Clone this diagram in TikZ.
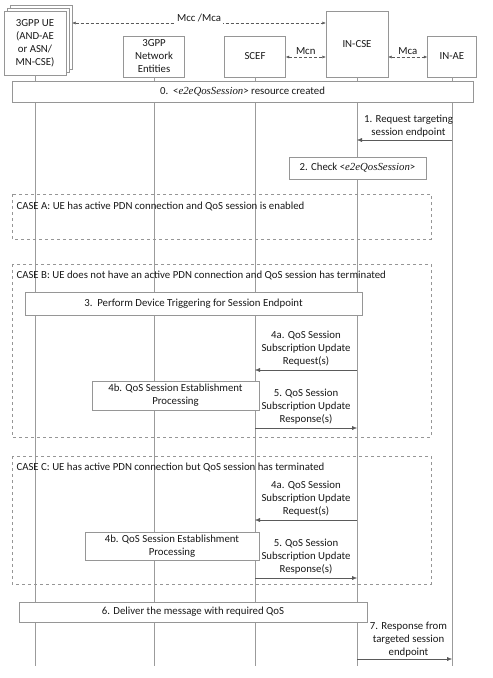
\documentclass[tikz,border=0pt]{standalone}
\usepackage{fontspec}
\setmainfont{Carlito}
\newfontfamily\resfont{Liberation Serif}
\usetikzlibrary{arrows.meta}
\definecolor{boxgray}{RGB}{150,150,150}
\definecolor{linegray}{RGB}{155,155,155}
\definecolor{msggray}{RGB}{90,90,90}
\newcommand{\res}{\textless{\resfont\itshape e2eQosSession}\textgreater}

\begin{document}
\begin{tikzpicture}[x=1pt,y=-1pt,font=\fontsize{10.8}{13}\selectfont,text=black!90]
\useasboundingbox[fill=white] (0,0) rectangle (493,678);
\tikzset{Box/.style={draw=boxgray,fill=white,inner sep=0pt,align=center}}
\tikzset{life/.style={draw=linegray}}
\tikzset{msg/.style={draw=msggray,-{Latex[length=5pt,width=4pt]}}}
\tikzset{iface/.style={draw=msggray,densely dashed,{Latex[length=3.5pt,width=3pt]}-{Latex[length=3.5pt,width=3pt]}}}
\tikzset{frame/.style={draw=boxgray,dashed}}
\tikzset{lbl/.style={align=center,inner sep=1pt}}

\node[Box,minimum width=62pt,minimum height=64pt] (ue2) at (41,37) {};
\node[Box,minimum width=62pt,minimum height=64pt] (ue1) at (38,40) {};
\node[Box,minimum width=62pt,minimum height=64pt] (ue) at (35,43) {3GPP UE\\(AND-AE\\or ASN/\\MN-CSE)};
\node[Box,minimum width=61pt,minimum height=41pt] (ne) at (154,56.5) {3GPP\\Network\\Entities};
\node[Box,minimum width=61pt,minimum height=41pt] (scef) at (255,56.5) {SCEF};
\node[Box,minimum width=62pt,minimum height=66pt] (cse) at (357,44) {IN-CSE};
\node[Box,minimum width=49pt,minimum height=41pt] (ae) at (452,56.5) {IN-AE};

\coordinate (ueE) at (ue.south |- 0,666);
\coordinate (neE) at (ne.south |- 0,666);
\coordinate (scefE) at (scef.south |- 0,666);
\coordinate (cseE) at (cse.south |- 0,666);
\coordinate (aeE) at (ae.south |- 0,666);
\draw[life] (ue.south) -- (ueE);
\draw[life] (ne.south) -- (neE);
\draw[life] (scef.south) -- (scefE);
\draw[life] (cse.south) -- (cseE);
\draw[life] (ae.south) -- (aeE);

\coordinate (ueI) at (ue2.east |- 0,23);
\coordinate (cseI) at (cse.west |- 0,23);
\draw[iface] (ueI) -- node[fill=white,inner sep=2pt,yshift=5pt] (mcc) {Mcc /Mca} (cseI);
\coordinate (scefI) at (scef.east |- 0,57);
\coordinate (cseIl) at (cse.west |- 0,57);
\coordinate (cseIr) at (cse.east |- 0,57);
\coordinate (aeI) at (ae.west |- 0,57);
\draw[iface] (scefI) -- node[above=1pt,inner sep=1pt] (mcn) {Mcn} (cseIl);
\draw[iface] (cseIr) -- node[above=1pt,inner sep=1pt] (mca) {Mca} (aeI);

\node[Box,minimum width=461pt,minimum height=21pt] (s0) at (242.5,91.5) {0.~~\res{} resource created};

\coordinate (ae1) at (ae |- 0,140);
\coordinate (cse1) at (cse |- 0,140);
\draw[msg] (ae1) -- node[lbl,above=2pt,xshift=4pt] (t1) {1. Request targeting\\session endpoint} (cse1);

\node[Box,minimum width=137pt,minimum height=22pt] (s2) at (357.5,168) {2. Check \res};

\draw[frame] (12,194) rectangle (431,239);
\node[anchor=west] (ca) at (13,206) {CASE A: UE has active PDN connection and QoS session is enabled};

\draw[frame] (12,264) rectangle (431,437);
\node[anchor=west] (cb) at (13,275) {CASE B: UE does not have an active PDN connection and QoS session has terminated};
\node[Box,minimum width=337pt,minimum height=23pt] (s3) at (193.5,303.5) {3.~~Perform Device Triggering for Session Endpoint};
\coordinate (cse4b) at (cse |- 0,370);
\coordinate (scef4b) at (scef |- 0,370);
\draw[msg] (cse4b) -- node[lbl,above=3pt] (t4b) {4a. QoS Session\\Subscription Update\\Request(s)} (scef4b);
\node[Box,minimum width=167pt,minimum height=29pt] (s4b) at (175.5,395.5) {4b. QoS Session Establishment\\Processing};
\coordinate (scef5b) at (scef |- 0,428);
\coordinate (cse5b) at (cse |- 0,428);
\draw[msg] (scef5b) -- node[lbl,above=3pt] (t5b) {5. QoS Session\\Subscription Update\\Response(s)} (cse5b);

\draw[frame] (12,456) rectangle (431,584);
\node[anchor=west] (cc) at (13,467) {CASE C: UE has active PDN connection but QoS session has terminated};
\coordinate (cse4c) at (cse |- 0,520);
\coordinate (scef4c) at (scef |- 0,520);
\draw[msg] (cse4c) -- node[lbl,above=3pt] (t4c) {4a. QoS Session\\Subscription Update\\Request(s)} (scef4c);
\node[Box,minimum width=174pt,minimum height=28pt] (s4c) at (172,546) {4b. QoS Session Establishment\\Processing};
\coordinate (scef5c) at (scef |- 0,578);
\coordinate (cse5c) at (cse |- 0,578);
\draw[msg] (scef5c) -- node[lbl,above=3pt] (t5c) {5. QoS Session\\Subscription Update\\Response(s)} (cse5c);

\node[Box,minimum width=348pt,minimum height=20pt] (s6) at (193,612) {6. Deliver the message with required QoS};
\coordinate (cse7) at (cse |- 0,659);
\coordinate (ae7) at (ae |- 0,659);
\draw[msg] (cse7) -- node[lbl,above=1pt,xshift=4pt] (t7) {7. Response from\\targeted session\\endpoint} (ae7);
\end{tikzpicture}
\end{document}
